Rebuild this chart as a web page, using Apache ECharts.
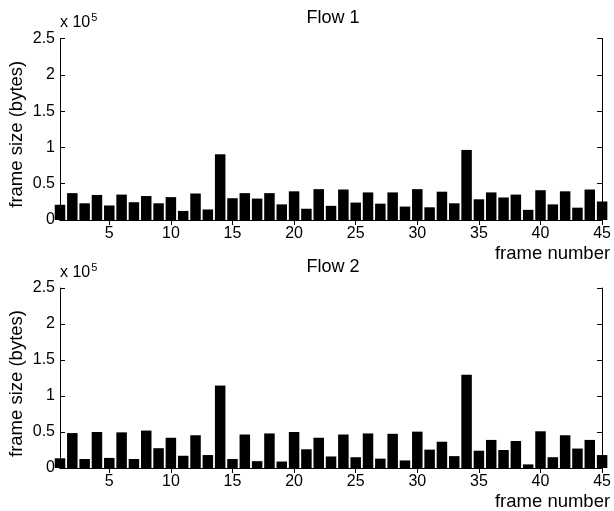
<!DOCTYPE html>
<html>
<head>
<meta charset="utf-8">
<script src="https://cdn.jsdelivr.net/npm/echarts@6/dist/echarts.min.js"></script>
<style>
  html, body { margin: 0; padding: 0; background: #fff; }
  #main { width: 614px; height: 511px; }
</style>
</head>
<body>
<div id="main"></div>
<script>
// frame sizes in bytes
var frames = [];
for (var i = 1; i <= 45; i++) frames.push(i);

var flow1 = [21000, 37000, 23000, 34500, 20000, 35000, 24500, 33000, 23000, 31500,
             12500, 36500, 14500, 90500, 30000, 37000, 29500, 37000, 21500, 39500,
             15500, 42500, 19500, 42000, 24000, 38000, 22500, 38000, 18500, 42500,
             17500, 39000, 23000, 96500, 28500, 38000, 31000, 35000, 14000, 41000,
             21500, 39500, 17000, 42000, 25500];

var flow2 = [13500, 48500, 12500, 50000, 14000, 49500, 12500, 52000, 27500, 42000,
             17000, 45500, 18000, 114500, 12500, 46500, 9500, 48000, 9000, 50000,
             26000, 42000, 16000, 46500, 15000, 48000, 13000, 47500, 10500, 50500,
             25500, 36500, 16500, 129500, 24000, 39000, 25000, 37500, 5000, 51000,
             15000, 45500, 27000, 39000, 18000];

var xTicks = [5, 10, 15, 20, 25, 30, 35, 40, 45];
var titles = ['Flow 1', 'Flow 2'];

var font = 'Liberation Sans, Arial, Helvetica, sans-serif';
var grids = [
  { left: 60, right: 9, top: 38.5, height: 181.5 },
  { left: 60, right: 9, top: 288, height: 181 }
];

var option = {
  backgroundColor: '#fff',
  animation: false,
  textStyle: { fontFamily: font },
  grid: grids,
  title: [],
  graphic: [],
  xAxis: [],
  yAxis: [],
  series: []
};

function tickLabel(v) {
  return String(v / 100000);
}

[flow1, flow2].forEach(function (vals, k) {
  var g = grids[k];
  option.title.push({
    text: titles[k],
    left: 333, top: g.top - 29.5, textAlign: 'center', padding: 0,
    textStyle: { fontFamily: font, fontSize: 18, fontWeight: 'normal', color: '#000' }
  });
  // exponent note above the y axis
  option.graphic.push({
    type: 'text', x: 60, y: g.top - 5,
    style: {
      text: '{a|x 10}{b|5}',
      verticalAlign: 'bottom',
      rich: {
        a: { fontFamily: font, fontSize: 16, fill: '#000' },
        b: { fontFamily: font, fontSize: 11, fill: '#000', padding: [0, 0, 10, 1] }
      }
    }
  });
  option.graphic.push({
    type: 'text', x: 17, y: g.top + g.height / 2 + 5,
    rotation: Math.PI / 2,
    style: { text: 'frame size (bytes)', fontFamily: font, fontSize: 18.5, fill: '#000',
      align: 'center', verticalAlign: 'middle' }
  });
  var line = { show: true, lineStyle: { color: '#000', width: 1 } };
  // bottom x axis
  option.xAxis.push({
    type: 'value', gridIndex: k, min: 1, max: 45, position: 'bottom',
    name: 'frame number', nameLocation: 'end', nameGap: 0,
    nameTextStyle: { fontFamily: font, fontSize: 18.5, color: '#000',
      align: 'right', verticalAlign: 'top', padding: [24, -8, 0, 0] },
    axisLine: line,
    axisTick: { show: true, inside: true, length: 5, customValues: xTicks, lineStyle: { color: '#000' } },
    axisLabel: { customValues: xTicks, color: '#000', fontSize: 16, fontFamily: font, margin: 6 },
    splitLine: { show: false }
  });
  // top x axis (box)
  option.xAxis.push({
    type: 'value', gridIndex: k, min: 1, max: 45, position: 'top',
    axisLine: line,
    axisTick: { show: true, inside: true, length: 5, customValues: xTicks, lineStyle: { color: '#000' } },
    axisLabel: { show: false },
    splitLine: { show: false }
  });
  option.yAxis.push({
    type: 'value', gridIndex: k, min: 0, max: 250000, interval: 50000, position: 'left',
    axisLine: line,
    axisTick: { show: true, inside: true, length: 5, lineStyle: { color: '#000' } },
    axisLabel: { formatter: tickLabel, color: '#000', fontSize: 16, fontFamily: font, margin: 5 },
    splitLine: { show: false }
  });
  option.yAxis.push({
    type: 'value', gridIndex: k, min: 0, max: 250000, interval: 50000, position: 'right',
    axisLine: line,
    axisTick: { show: true, inside: true, length: 5, lineStyle: { color: '#000' } },
    axisLabel: { show: false },
    splitLine: { show: false }
  });
  option.series.push({
    type: 'bar', xAxisIndex: k * 2, yAxisIndex: k * 2,
    data: frames.map(function (f, i) { return [f, vals[i]]; }),
    barWidth: 10.5, clip: true,
    itemStyle: { color: '#000' }
  });
});

var chart = echarts.init(document.getElementById('main'), null, { renderer: 'canvas' });
chart.setOption(option);
</script>
</body>
</html>
